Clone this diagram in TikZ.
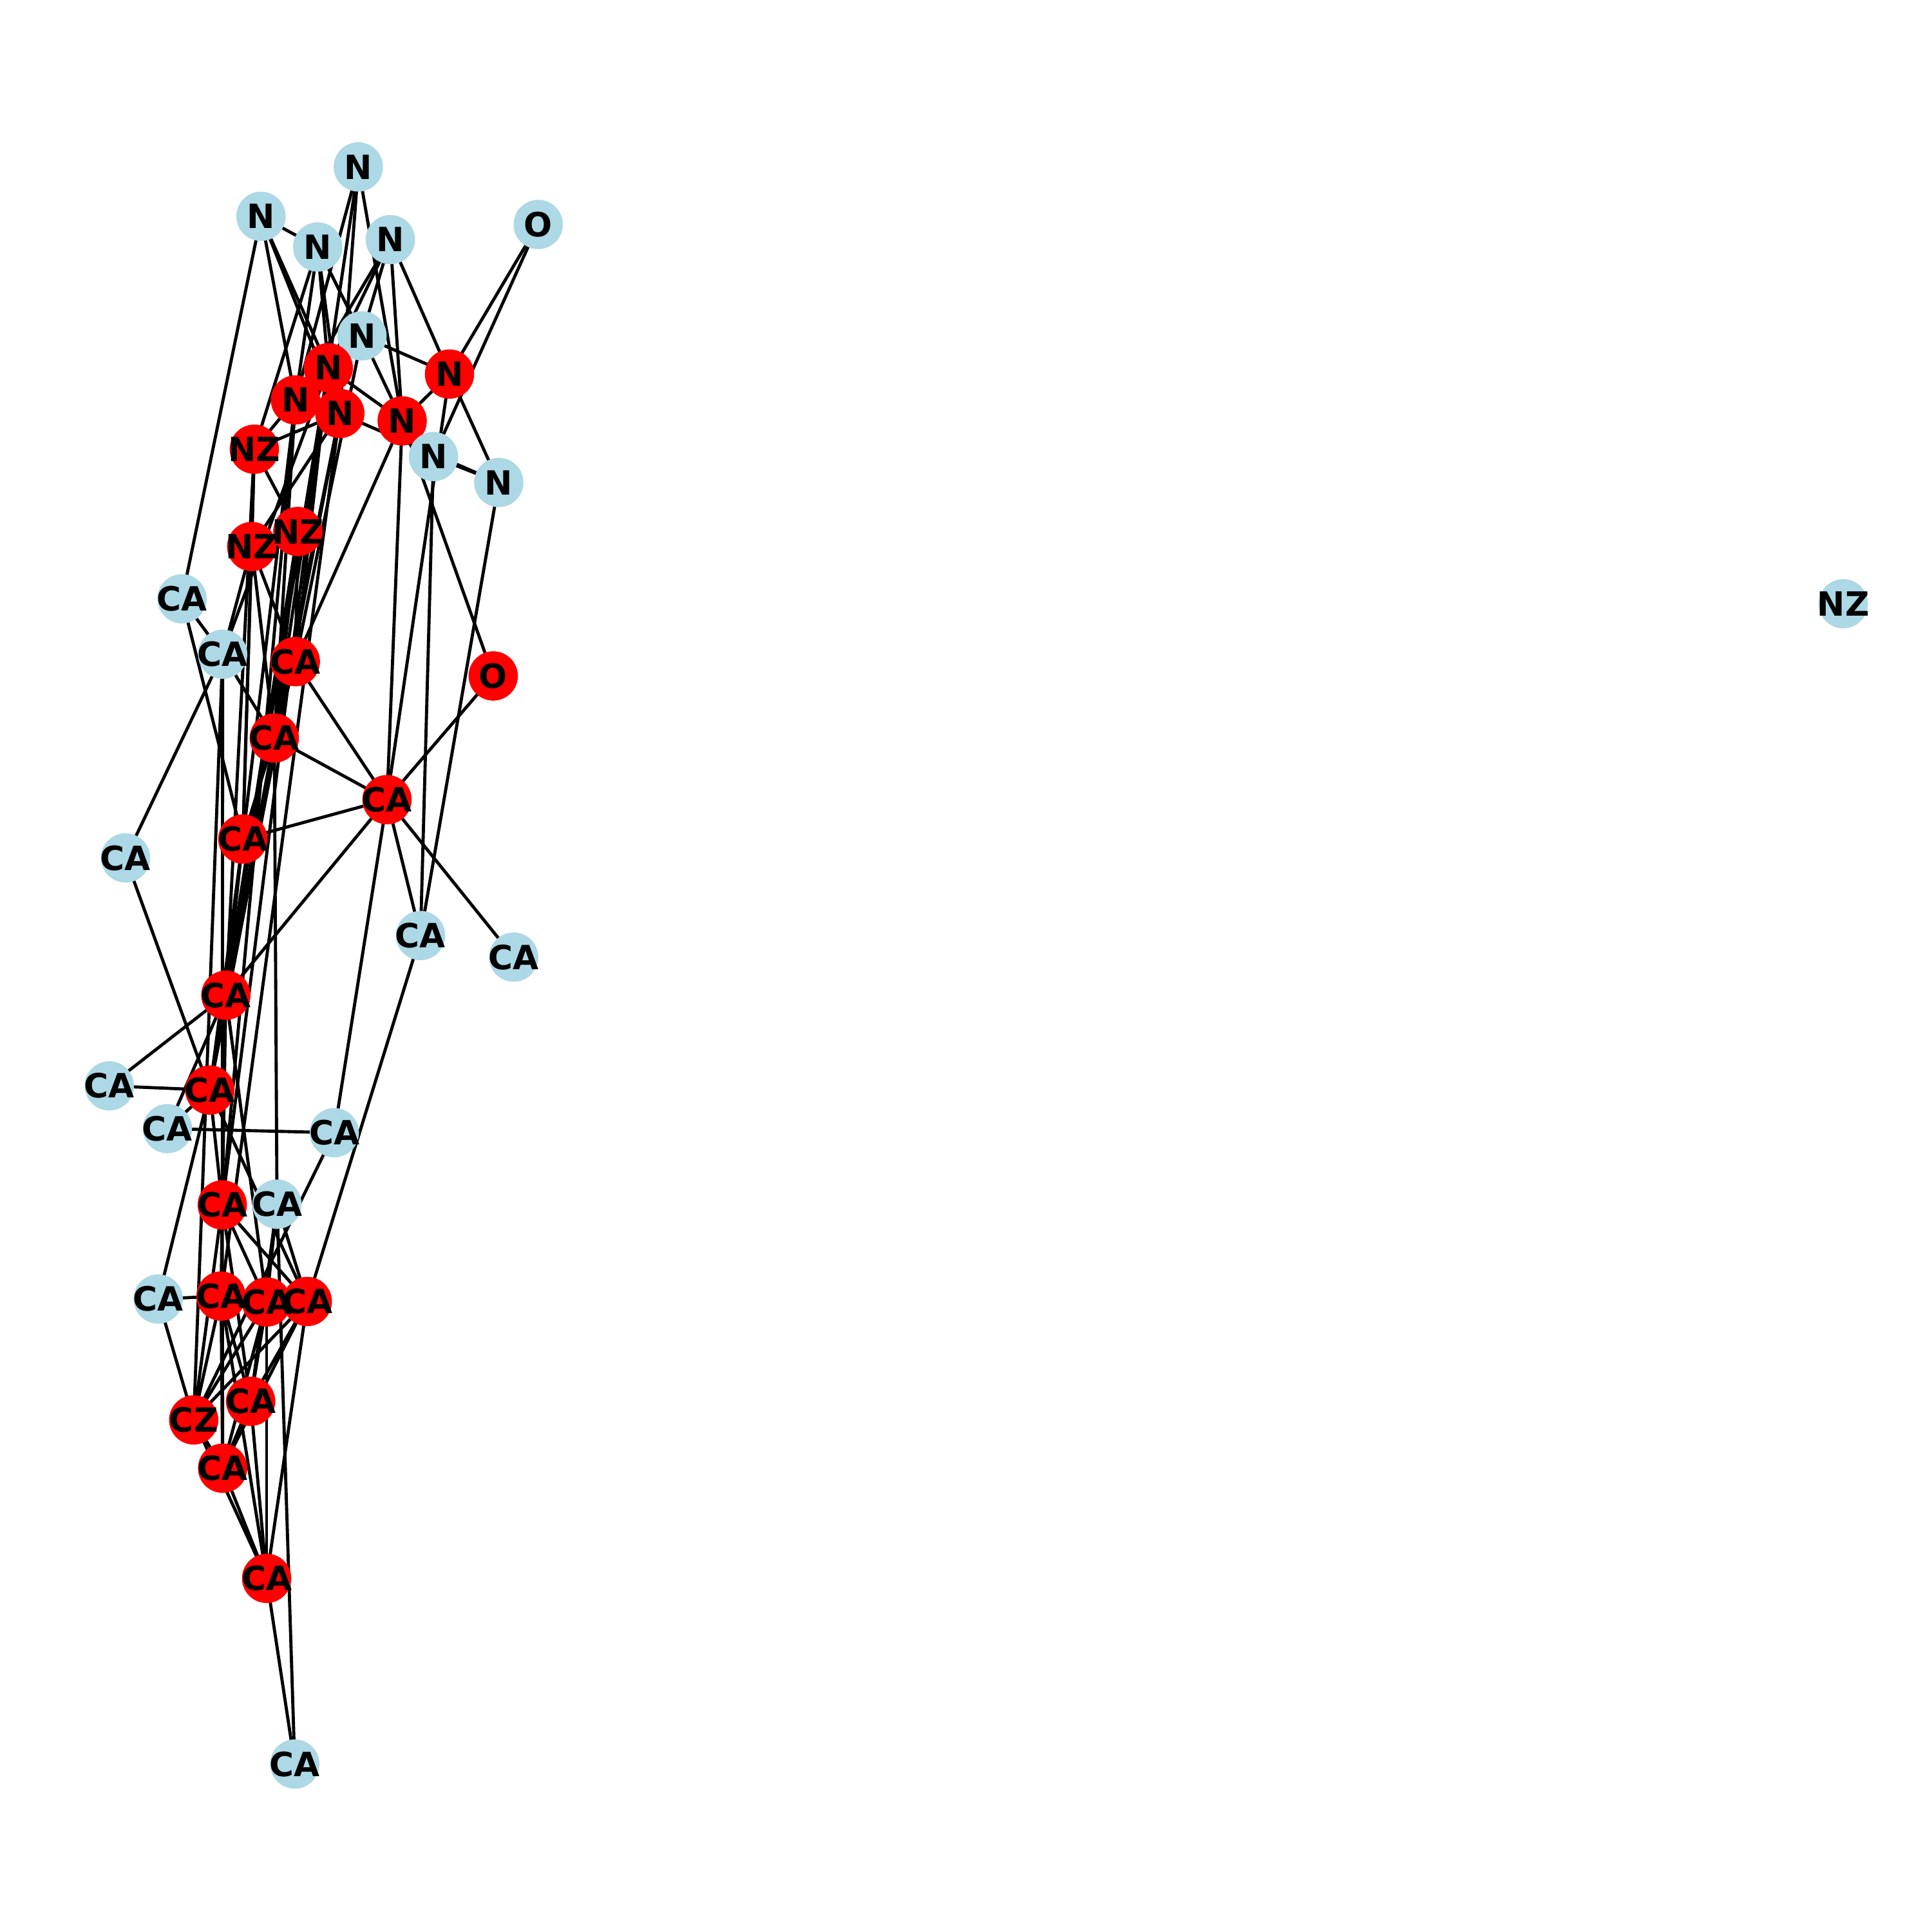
\documentclass[tikz,border=0pt]{standalone}
\usepackage{fontspec}
\setmainfont{DejaVu Sans}
\pgfdeclarelayer{bg}
\pgfsetlayers{bg,main}
\definecolor{lblue}{RGB}{173,216,230}
\definecolor{nred}{RGB}{255,0,0}
\tikzset{
  vtx/.style={circle, minimum size=0.4cm, inner sep=0pt, draw=none},
  bluev/.style={vtx, fill=lblue},
  redv/.style={vtx, fill=nred},
  lbl/.style={inner sep=0pt, font=\fontsize{7.7}{8}\selectfont\bfseries, text=black},
  edge/.style={draw=black, line width=0.72pt}
}
\begin{document}
\begin{tikzpicture}
\useasboundingbox (0,0) rectangle (15.68,15.68);
% circles
\node[bluev] (a1) at (2.908,14.325) {};
\node[bluev] (a2) at (2.118,13.924) {};
\node[bluev] (a3) at (2.578,13.675) {};
\node[bluev] (a4) at (3.168,13.735) {};
\node[bluev] (a5) at (4.368,13.858) {};
\node[bluev] (a6) at (2.938,12.954) {};
\node[redv] (r1) at (2.664,12.695) {};
\node[redv] (r2) at (3.648,12.644) {};
\node[redv] (r3) at (2.398,12.434) {};
\node[redv] (r4) at (2.758,12.324) {};
\node[redv] (r5) at (3.264,12.264) {};
\node[bluev] (a7) at (3.518,11.974) {};
\node[bluev] (a8) at (4.048,11.764) {};
\node[redv] (z1) at (2.064,12.034) {};
\node[redv] (z2) at (2.043,11.244) {};
\node[redv] (z3) at (2.417,11.366) {};
\node[bluev] (c1) at (1.477,10.820) {};
\node[bluev] (c2) at (1.807,10.370) {};
\node[bluev] (c3) at (1.019,8.717) {};
\node[bluev] (c4) at (3.413,8.087) {};
\node[bluev] (c5) at (4.169,7.912) {};
\node[bluev] (c6) at (0.887,6.867) {};
\node[bluev] (c7) at (1.359,6.520) {};
\node[bluev] (c8) at (2.713,6.487) {};
\node[bluev] (c9) at (2.248,5.907) {};
\node[bluev] (c10) at (1.284,5.137) {};
\node[bluev] (c11) at (2.392,1.363) {};
\node[bluev] (nzf) at (14.96,10.78) {};
\node[redv] (s1) at (2.397,10.310) {};
\node[redv] (o1) at (4.003,10.194) {};
\node[redv] (s2) at (2.226,9.690) {};
\node[redv] (s3) at (3.141,9.190) {};
\node[redv] (s4) at (1.971,8.870) {};
\node[redv] (s5) at (1.833,7.603) {};
\node[redv] (s6) at (1.703,6.833) {};
\node[redv] (s7) at (1.804,5.901) {};
\node[redv] (s8) at (1.794,5.161) {};
\node[redv] (s9) at (2.164,5.113) {};
\node[redv] (s10) at (2.494,5.117) {};
\node[redv] (s11) at (2.034,4.307) {};
\node[redv] (cz) at (1.572,4.156) {};
\node[redv] (s12) at (1.807,3.764) {};
\node[redv] (s13) at (2.164,2.870) {};
% labels
\foreach \n/\t in {a1/N,a2/N,a3/N,a4/N,a5/O,a6/N,r1/N,r2/N,r3/N,r4/N,r5/N,a7/N,a8/N,z1/NZ,z2/NZ,z3/NZ,
  c1/CA,c2/CA,c3/CA,c4/CA,c5/CA,c6/CA,c7/CA,c8/CA,c9/CA,c10/CA,c11/CA,nzf/NZ,
  s1/CA,o1/O,s2/CA,s3/CA,s4/CA,s5/CA,s6/CA,s7/CA,s8/CA,s9/CA,s10/CA,s11/CA,cz/CZ,s12/CA,s13/CA}
  \node[lbl] (\n t) at (\n) {\t};
% edges
\begin{pgfonlayer}{bg}
\foreach \u/\v in {a2/a3,a2/c1,a2/r3,a2/r4,a2/r1,
  a3/a6,a3/r3,a3/r1,a3/r4,a3/z1,
  a1/r3,a1/r1,a1/r4,a1/r5,
  a4/a6,a4/r1,a4/r3,a4/r5,a4/r2,
  a5/r2,a5/a7,
  a6/r2,a6/r5,a6/s1,
  r1/r5,r4/a8,r5/r2,z1/r4,z1/r3,z1/z3,r4/z2,z1/z2,
  r2/a8,a7/a8,r2/s3,a7/c4,a8/c4,r5/o1,r5/s1,r5/s3,
  s3/s1,s3/s2,s3/s4,s3/o1,s3/s5,s3/c4,s3/c5,s3/c8,
  c1/c2,c1/s4,c2/s2,c2/c3,c2/z2,c2/r1,c2/s7,c2/cz,
  z2/s4,z2/s1,z2/s2,
  z3/s1,z3/s2,z3/s5,z3/s6,
  r1/s1,r1/s2,r1/s5,r1/s7,
  r4/s2,r4/s5,r4/s6,r4/s8,
  r3/s2,r3/s4,r3/s7,
  z1/s5,z1/s4,
  s1/s2,s2/s4,s2/s5,s4/s5,s5/s6,s6/s7,s5/s7,s4/s6,s7/s8,
  s2/c9,c3/s6,c6/s5,c6/s6,c7/c8,c7/s6,c7/s5,s6/c10,c10/s8,c10/cz,
  s5/s9,s6/s10,c4/s10,c8/cz,
  c9/s9,c9/s10,c9/s11,c9/c11,s13/c11,
  s7/s9,s7/s10,s7/s11,s7/s12,s7/cz,
  s8/s11,s8/s12,s8/s13,s8/cz,s8/s9,
  s9/s10,s9/s11,s9/s12,s9/s13,cz/s9,
  s10/s11,s10/s12,s10/s13,cz/s10,
  s11/s12,s11/s13,cz/s12,cz/s13,s12/s13}
  \draw[edge] (\u.center) -- (\v.center);
\end{pgfonlayer}
\end{tikzpicture}
\end{document}
